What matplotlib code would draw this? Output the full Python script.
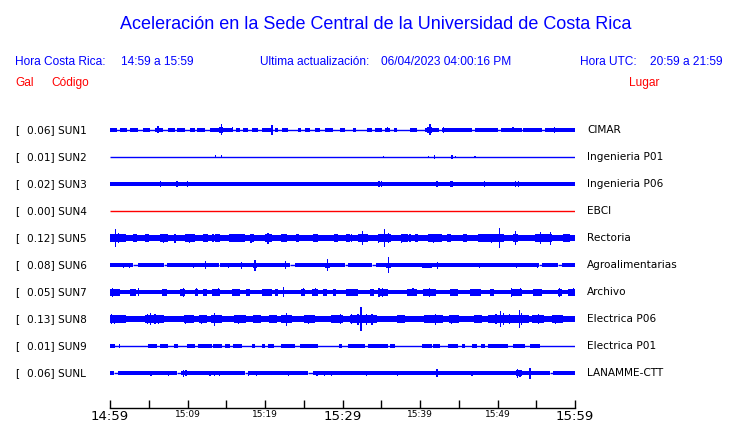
import matplotlib
matplotlib.use("Agg")
import matplotlib.pyplot as plt

# station info, top to bottom
codes = ["SUN1", "SUN2", "SUN3", "SUN4", "SUN5", "SUN6", "SUN7", "SUN8", "SUN9", "SUNL"]
gal = ["0.06", "0.01", "0.02", "0.00", "0.12", "0.08", "0.05", "0.13", "0.01", "0.06"]
places = ["CIMAR", "Ingenieria P01", "Ingenieria P06", "EBCI", "Rectoria",
          "Agroalimentarias", "Archivo", "Electrica P06", "Electrica P01", "LANAMME-CTT"]
trace_colors = ["blue", "blue", "blue", "red", "blue", "blue", "blue", "blue", "blue", "blue"]

# time axis (minutes after 14:59)
tick_min = [0, 5, 10, 15, 20, 25, 30, 35, 40, 45, 50, 55, 60]
tick_labels = ["14:59", "", "15:09", "", "15:19", "", "15:29", "", "15:39", "", "15:49", "", "15:59"]
big_ticks = ["14:59", "15:29", "15:59"]

# envelope: background level, quiet gaps, noisy blocks (t0, t1, amp), spikes (t, amp)
base_amp = [0.5, 0.6, 2.0, 0.5, 3.0, 1.7, 2.0, 2.7, 0.5, 1.7]

gaps = [
    [], [], [], [], [],
    [(3.0, 3.6), (7.0, 7.3), (14.0, 14.2), (23.2, 23.9), (30.3, 30.7), (33.8, 34.3), (55.3, 55.7), (57.8, 58.3)],
    [], [], [],
    [(0.55, 1.0), (8.6, 9.2), (17.4, 17.8), (25.6, 26.2), (56.8, 57.2)],
]

blocks = [
    # SUN1
    [(0, 0.86, 2), (1.29, 2.15, 2), (2.58, 3.66, 2), (4.3, 5.16, 2), (5.8, 6.9, 2), (7.5, 8.4, 2),
     (8.6, 9.7, 2), (10.3, 11.0, 2), (11.2, 12.3, 2), (12.9, 14.0, 2), (14.0, 14.6, 3), (14.6, 15.9, 2),
     (16.3, 16.8, 2), (17.2, 17.8, 2), (18.3, 19.1, 2), (19.6, 20.9, 2), (21.3, 21.7, 2), (22.2, 23.0, 2),
     (24.3, 24.7, 2), (25.2, 25.8, 2), (26.5, 27.1, 2), (27.7, 28.8, 2), (29.7, 30.3, 2), (31.4, 31.8, 2),
     (33.1, 33.8, 2), (34.2, 35.1, 2), (35.5, 36.1, 2), (36.6, 37.0, 2), (38.7, 39.6, 2), (40.6, 42.4, 2),
     (40.9, 41.6, 3), (42.8, 46.7, 2), (47.1, 50.1, 2), (50.5, 53.1, 2), (53.3, 55.7, 2), (56.1, 60, 2)],
    # SUN2
    [(44.0, 44.3, 1.8)],
    # SUN3
    [(8.5, 8.8, 3.2), (42.0, 42.3, 3)],
    # SUN4
    [],
    # SUN5
    [(0, 2.0, 4), (6.4, 7.5, 4), (9.7, 11.0, 4), (15.3, 17.4, 4), (20.0, 20.9, 4), (32.0, 33.3, 4),
     (34.6, 36.3, 4), (41.0, 42.8, 4), (47.5, 50.9, 4), (54.8, 57.0, 4), (3.0, 3.5, 3.8), (4.5, 5.0, 3.8),
     (12.0, 12.6, 3.8), (13.5, 14.2, 3.8), (18.0, 18.6, 3.8), (22.3, 22.8, 3.8), (24.0, 24.4, 3.8),
     (26.2, 26.8, 3.8), (28.9, 29.4, 3.8), (30.5, 31.0, 3.8), (37.5, 38.5, 3.8), (39.3, 39.7, 3.8),
     (43.5, 44.0, 3.8), (45.5, 46.0, 3.8), (52.0, 52.6, 3.8), (58.5, 59.2, 3.8)],
    # SUN6
    [(18.4, 19.0, 2.5), (27.8, 28.4, 2.5), (35.6, 36.2, 2.5), (40.3, 41.5, 2.5)],
    # SUN7
    [(0, 1.3, 3.5), (2.6, 3.4, 3.5), (6.7, 7.3, 3.5), (9.0, 9.7, 3.5), (11.0, 11.4, 3.5), (12.0, 12.5, 3.5),
     (13.1, 14.2, 3.5), (15.7, 16.8, 3.5), (17.6, 18.1, 3.5), (19.6, 20.9, 3.5), (21.3, 21.7, 3.5),
     (24.7, 25.2, 3.5), (26.0, 26.9, 3.5), (27.5, 28.0, 3.5), (28.8, 29.2, 3.5), (30.5, 32.0, 3.5),
     (33.5, 34.0, 3.5), (34.8, 35.9, 3.5), (38.3, 39.6, 3.5), (40.4, 42.1, 3.5), (43.9, 44.9, 3.5),
     (46.4, 47.9, 3.5), (49.0, 49.5, 3.5), (51.8, 53.1, 3.5), (54.6, 55.7, 3.5), (57.8, 58.3, 3.5),
     (59.1, 60, 3.5)],
    # SUN8
    [(0, 2.0, 4), (4.5, 7.0, 4), (9.5, 10.8, 4), (11.5, 12.5, 4), (13.0, 14.5, 4), (16.0, 17.5, 4),
     (18.5, 19.5, 4), (20.5, 21.5, 4), (22.0, 23.5, 4), (25.0, 26.5, 4), (28.5, 30.0, 4), (31.0, 34.5, 4),
     (37.0, 38.0, 4), (40.5, 43.0, 4), (43.8, 45.0, 4), (47.0, 48.0, 4), (48.8, 54.0, 4), (54.5, 56.0, 4),
     (57.0, 58.5, 4)],
    # SUN9
    [(0, 0.65, 1.7), (1.1, 1.3, 1.7), (4.9, 6.0, 1.7), (6.5, 7.5, 1.7), (8.2, 8.8, 1.7), (9.9, 11.0, 1.7),
     (11.4, 13.1, 1.7), (13.3, 14.4, 1.7), (14.8, 15.5, 1.7), (15.9, 17.0, 1.7), (18.3, 18.7, 1.7),
     (19.6, 20.0, 1.7), (20.4, 21.1, 1.7), (22.1, 23.9, 1.7), (24.5, 26.9, 1.7), (29.5, 29.9, 1.7),
     (30.7, 32.9, 1.7), (33.3, 35.9, 1.7), (36.1, 36.8, 1.7), (40.2, 41.5, 1.7), (41.7, 42.6, 1.7),
     (43.6, 44.9, 1.7), (45.4, 45.8, 1.7), (46.7, 47.3, 1.7), (47.9, 48.4, 1.7), (48.8, 51.4, 1.7),
     (52.0, 53.5, 1.7), (54.2, 55.5, 1.7)],
    # SUNL
    [(52.4, 53.2, 3)],
]

spikes = [
    # SUN1
    [(6.2, 3.5), (14.4, 5.5), (15.8, 2.5), (20.9, 5), (35.8, 2.5), (41.3, 5.5), (43.0, 3), (52.0, 2.5), (57.4, 3)],
    # SUN2
    [(13.6, 1.5), (14.4, 1.5), (35.3, 1.3), (41.1, 1.3), (41.9, 1.8), (44.6, 1.3), (47.1, 1.3)],
    # SUN3
    [(6.5, 3), (10.0, 2.8), (34.7, 3), (35.0, 2.8), (44.0, 3), (44.2, 3), (48.3, 3), (52.3, 3), (52.7, 3)],
    # SUN4
    [],
    # SUN5
    [(0.7, 9.3), (1.1, 5), (6.9, 4.5), (8.4, 4.5), (10.3, 4.5), (12.3, 4), (13.3, 4), (17.0, 4), (18.2, 4.5),
     (20.4, 5.5), (22.2, 4), (29.0, 4), (31.2, 4), (32.6, 6.7), (34.6, 4.5), (35.4, 8.8), (35.9, 5),
     (37.6, 4.5), (38.7, 4), (41.7, 4.5), (42.8, 4), (49.2, 4.5), (50.3, 10), (52.3, 7), (55.5, 6),
     (56.8, 6.5), (59.3, 4)],
    # SUN6
    [(1.7, 2.5), (2.5, 2.5), (10.8, 2.5), (12.3, 4), (15.3, 2.5), (17.0, 3.5), (18.7, 5.5), (22.6, 4),
     (28.1, 6), (35.9, 8.2), (40.6, 2.5), (42.3, 3.5), (47.7, 2.5), (52.5, 2.5), (55.2, 2.5)],
    # SUN7
    [(0.3, 4.5), (3.7, 4), (9.5, 4.5), (11.2, 4), (14.0, 4), (22.4, 5.3), (25.0, 4), (26.5, 4), (34.7, 4.5),
     (35.2, 4.5), (39.1, 4), (41.2, 4.5), (51.8, 4.5), (53.0, 4), (58.0, 4.5), (59.8, 4)],
    # SUN8
    [(0.2, 5), (0.6, 4.5), (4.8, 5), (5.2, 6.3), (5.8, 5), (6.3, 4.5), (9.7, 4.5), (11.8, 4.5), (13.5, 6.5),
     (16.6, 4.5), (18.8, 4), (22.8, 6.5), (25.6, 4.5), (29.7, 5), (31.2, 5), (32.0, 5.5), (32.4, 12.2),
     (33.1, 5.5), (33.8, 5.5), (42.0, 5.5), (44.1, 4.5), (49.8, 5), (50.4, 8), (50.8, 6), (51.5, 5),
     (52.8, 8.7), (53.1, 6), (55.3, 5), (57.5, 4.5)],
    # SUN9
    [],
    # SUNL
    [(5.3, 2.5), (7.5, 2.5), (9.5, 3.5), (9.8, 3), (12.9, 2.5), (13.5, 2.5), (14.1, 2.5), (17.9, 2.5),
     (18.9, 2.5), (23.0, 2.5), (26.7, 2.5), (27.7, 2.5), (28.6, 2.5), (33.1, 2.5), (37.1, 2.5), (42.2, 4),
     (46.7, 2.5), (52.6, 4.5), (52.9, 3.5), (54.2, 5.5)],
]

W, H = 740, 423
fig = plt.figure(figsize=(W / 100, H / 100), dpi=100)


def fx(px):
    return px / W


def fy(py):
    return 1 - py / H


# axes in pixel-like units vertically: rows 27 px apart
ax = fig.add_axes([fx(110), fy(408), fx(575) - fx(110), fy(118) - fy(408)])
ax.set_xlim(0, 60)
ax.set_ylim(408, 118)
row_y = [130 + 27 * i for i in range(len(codes))]

for i in range(len(codes)):
    y = row_y[i]
    c = trace_colors[i]
    b = base_amp[i]
    # background band, broken where the trace goes quiet
    segs = []
    start = 0
    for g0, g1 in gaps[i]:
        segs.append((start, g0 - start))
        start = g1
    segs.append((start, 60 - start))
    if b < 1:
        ax.plot([0, 60], [y, y], color=c, lw=1.0, solid_capstyle="butt")
    else:
        ax.broken_barh(segs, (y - b, 2 * b), facecolors=c, linewidth=0)
        for g0, g1 in gaps[i]:
            ax.plot([g0, g1], [y, y], color=c, lw=1.0, solid_capstyle="butt")
    for t0, t1, a in blocks[i]:
        ax.broken_barh([(t0, t1 - t0)], (y - a, 2 * a), facecolors=c, linewidth=0)
    for t, a in spikes[i]:
        ax.broken_barh([(t - 0.08, 0.16)], (y - a, 2 * a), facecolors=c, linewidth=0)

    fig.text(fx(15), fy(y), "[", fontsize=7.6, va="center", family="DejaVu Sans")
    fig.text(fx(27), fy(y), gal[i] + "] " + codes[i], fontsize=7.6, va="center", family="DejaVu Sans")
    fig.text(fx(587), fy(y), places[i], fontsize=7.6, va="center", family="DejaVu Sans")

for s in ["left", "right", "top"]:
    ax.spines[s].set_visible(False)
ax.spines["bottom"].set_linewidth(1.0)
ax.set_yticks([])
ax.set_xticks(tick_min, tick_labels)
ax.tick_params(axis="x", direction="in", length=6, width=1.0, pad=1.5)
for lab in ax.get_xticklabels():
    if lab.get_text() in big_ticks:
        lab.set_fontsize(9.5)
    else:
        lab.set_fontsize(6.5)

# header
fig.text(fx(376), fy(29), "Aceleración en la Sede Central de la Universidad de Costa Rica",
         ha="center", va="baseline", color="blue", fontsize=13, family="Liberation Sans")
hdr = dict(va="baseline", color="blue", fontsize=8.6, family="Liberation Sans")
fig.text(fx(15), fy(65), "Hora Costa Rica:", **hdr)
fig.text(fx(121), fy(65), "14:59 a 15:59", **hdr)
fig.text(fx(260), fy(65), "Ultima actualización:", **hdr)
fig.text(fx(381), fy(65), "06/04/2023 04:00:16 PM", **hdr)
fig.text(fx(580), fy(65), "Hora UTC:", **hdr)
fig.text(fx(650), fy(65), "20:59 a 21:59", **hdr)
red = dict(va="baseline", color="red", fontsize=8.6, family="Liberation Sans")
fig.text(fx(15), fy(86), "Gal", **red)
fig.text(fx(51), fy(86), "Código", **red)
fig.text(fx(629), fy(86), "Lugar", **red)

fig.savefig("out.png", dpi=100)
